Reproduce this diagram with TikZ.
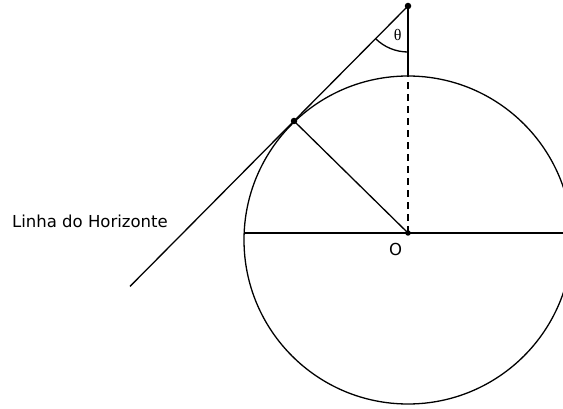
\documentclass[tikz,border=0pt]{standalone}
\usepackage{fontspec}
\setmainfont{DejaVu Sans}
\newfontfamily\thetafont{Liberation Serif}
\usetikzlibrary{calc}
\begin{document}
\begin{tikzpicture}[x=1pt,y=1pt,
  ln/.style={line width=1.3pt,black},
  dsh/.style={line width=2.2pt,dash pattern=on 7pt off 5pt},
  pt/.style={circle,fill=black,inner sep=0pt,minimum size=6.5pt},
  lbl/.style={font=\fontsize{16.5}{18}\selectfont,inner sep=0pt}]
\useasboundingbox (0,0) rectangle (563,-409);
\coordinate (C) at (408,-240);
\coordinate (T) at (408,-6);
\coordinate (P) at (294,-121);
\coordinate (O) at (408,-233);
\coordinate (Ctop) at (408,-76);
\coordinate (E) at (130,-286.4);
\coordinate (HL) at (244,-233);
\coordinate (HR) at (570,-233);
\draw[ln] (C) circle[radius=164];
\draw[ln] (HL) -- (HR);
\draw[ln] (T) -- (E);
\draw[ln] (P) -- (O);
\draw[ln] (T) -- (Ctop);
\draw[dsh] (O) -- (Ctop);
\draw[ln] (T) ++(225.25:46) arc[start angle=225.25,end angle=270,radius=46];
\node[pt] at (T) {};
\node[pt] at (P) {};
\node[pt,minimum size=5.5pt] at (O) {};
\node[lbl,anchor=base west] (hz) at (12,-228) {Linha do Horizonte};
\node[lbl,anchor=base] (ol) at (395.7,-256) {O};
\node[font=\thetafont\fontsize{16}{18}\selectfont,inner sep=0pt] (th) at (397.8,-35) {θ};
\end{tikzpicture}
\end{document}
